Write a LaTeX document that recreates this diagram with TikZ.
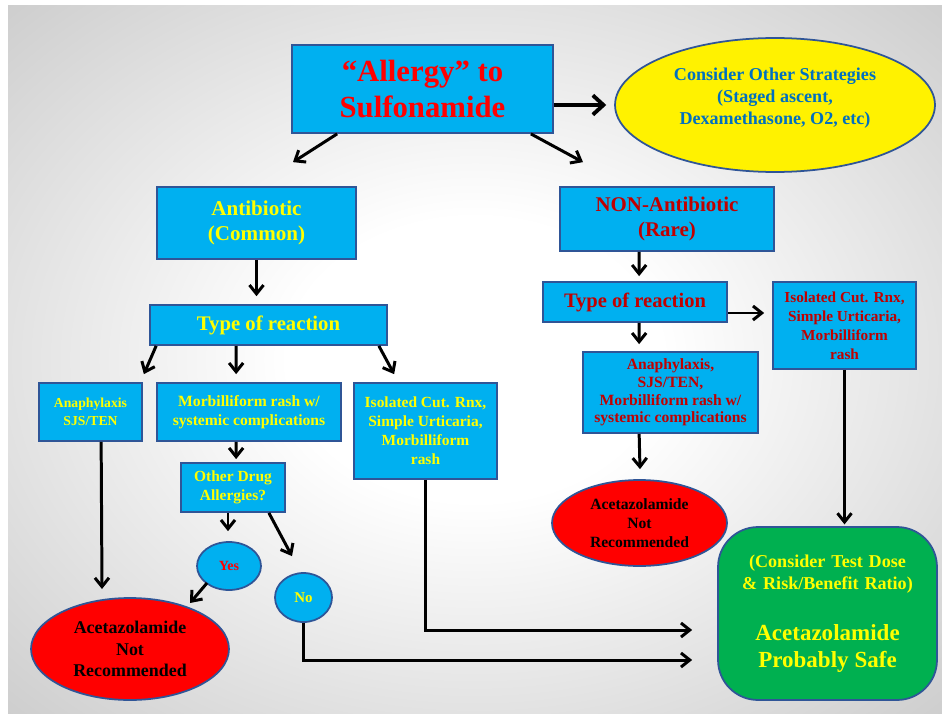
\documentclass[tikz,border=0pt]{standalone}
\usepackage{fontspec}
\setmainfont{Liberation Serif}
\usetikzlibrary{arrows.meta,shapes.geometric,calc}

\definecolor{boxblue}{HTML}{00B0F0}
\definecolor{edgeblue}{HTML}{2F5597}
\definecolor{txtyellow}{HTML}{FFFF00}
\definecolor{txtred}{HTML}{C00000}
\definecolor{brightred}{HTML}{FF0000}
\definecolor{stratblue}{HTML}{0070C0}
\definecolor{safegreen}{HTML}{00B050}
\definecolor{bgmid}{RGB}{178,178,178}
\definecolor{bgedge}{RGB}{148,148,148}

\pgfdeclareradialshading{slidebg}{\pgfpointorigin}{color(0bp)=(white); color(10bp)=(white); color(50bp)=(bgmid); color(72bp)=(bgedge)}

\newcommand{\txtsize}[2]{\fontsize{#1}{#2}\selectfont\bfseries}

\tikzset{
  bluebox/.style={draw=edgeblue, line width=1pt, fill=boxblue, inner sep=0pt, align=center},
  oval/.style={ellipse, draw=edgeblue, line width=1pt, inner sep=0pt, align=center},
  arr/.style={line width=1.7pt, -{Straight Barb[length=5pt,width=8pt]}},
}

\begin{document}
\begin{tikzpicture}[x=0.02cm, y=-0.02cm]
  % frame and slide background
  \useasboundingbox (0,0) rectangle (942,713);
  \fill[white] (0,0) rectangle (942,713);
  \shade[shading=slidebg] (8,6) rectangle (942,713);

  % top box
  \node[bluebox, minimum width=5.22cm, minimum height=1.76cm, text=brightred,
        font=\txtsize{17.5}{20.5}] (top) at (422.5,89) {``Allergy'' to\\Sulfonamide};

  % other strategies
  \node[oval, fill=yellow, minimum width=6.4cm, minimum height=2.68cm, text=stratblue,
        font=\txtsize{10.3}{12.5}, text depth=10pt] (strat) at (775,105)
        {Consider Other Strategies\\(Staged ascent,\\Dexamethasone, O2, etc)};

  % antibiotic branch
  \node[bluebox, minimum width=3.98cm, minimum height=1.44cm, text=txtyellow,
        font=\txtsize{12}{14.7}] (anti) at (256.5,223) {Antibiotic\\(Common)};
  \node[bluebox, minimum width=4.74cm, minimum height=0.8cm, text=txtyellow,
        font=\txtsize{11.8}{14}] (typeL) at (268.5,325) {Type of reaction};
  \node[bluebox, minimum width=2.06cm, minimum height=1.16cm, text=txtyellow,
        font=\txtsize{7.8}{10}] (anaL) at (90.5,412) {Anaphylaxis\\SJS/TEN};
  \node[bluebox, minimum width=3.68cm, minimum height=1.16cm, text=txtyellow,
        font=\txtsize{8.9}{10.5}] (morb) at (249,412) {Morbilliform rash w/\\systemic complications};
  \node[bluebox, minimum width=2.86cm, minimum height=1.92cm, text=txtyellow,
        font=\txtsize{8.8}{10.8}] (isoL) at (425.5,431)
        {Isolated Cut. Rnx,\\Simple Urticaria,\\Morbilliform\\rash};
  \node[bluebox, minimum width=2.08cm, minimum height=0.98cm, text=txtyellow,
        font=\txtsize{8.8}{11}] (other) at (233,487.5) {Other Drug\\Allergies?};
  \node[oval, fill=boxblue, minimum width=1.28cm, minimum height=0.96cm, text=brightred,
        font=\txtsize{8}{10}] (yes) at (229,566) {Yes};
  \node[oval, fill=boxblue, minimum width=1.14cm, minimum height=0.98cm, text=txtyellow,
        font=\txtsize{8.5}{10}] (no) at (303.5,597.5) {No};
  \node[oval, fill=brightred, minimum width=3.96cm, minimum height=2.04cm, text=black,
        font=\txtsize{10.2}{12.2}] (notL) at (130,649) {Acetazolamide\\Not\\Recommended};

  % non-antibiotic branch
  \node[bluebox, minimum width=4.28cm, minimum height=1.28cm, text=txtred,
        font=\txtsize{11.9}{14.2}] (nonanti) at (667,219) {NON-Antibiotic\\(Rare)};
  \node[bluebox, minimum width=3.68cm, minimum height=0.8cm, text=txtred,
        font=\txtsize{11.7}{14}] (typeR) at (635,302) {Type of reaction};
  \node[bluebox, minimum width=3.5cm, minimum height=1.62cm, text=txtred,
        font=\txtsize{8.9}{10}] (anaR) at (670.5,392.5)
        {Anaphylaxis,\\SJS/TEN,\\Morbilliform rash w/\\systemic complications};
  \node[bluebox, minimum width=2.86cm, minimum height=1.74cm, text=txtred,
        font=\txtsize{8.7}{10.8}] (isoR) at (844.5,325.5)
        {Isolated Cut. Rnx,\\Simple Urticaria,\\Morbilliform\\rash};
  \node[oval, fill=brightred, minimum width=3.5cm, minimum height=1.72cm, text=black,
        font=\txtsize{8.9}{10.8}] (notR) at (639.5,523) {Acetazolamide\\Not\\Recommended};

  % probably safe
  \node[draw=edgeblue, line width=1pt, fill=safegreen, rounded corners=0.8cm,
        minimum width=4.38cm, minimum height=3.46cm, inner sep=0pt, text width=4.2cm,
        align=center, text=txtyellow] (safe) at (827.5,613.5)
        {{\txtsize{10.3}{12.5}(Consider Test Dose\\\& Risk/Benefit Ratio)\par}\vspace{13.6pt}
         {\txtsize{13.1}{15.3}Acetazolamide\\Probably Safe\par}};

  % arrows from the top
  \draw[arr] ($(top.south west)+(46,0)$) -- ($(anti.north)+(36.5,-24)$);
  \draw[arr] ($(top.south east)+(-23,0)$) -- ($(nonanti.north)+(-84,-24)$);
  \draw[line width=2.2pt, -{Straight Barb[length=6pt,width=11pt]}, shorten >=4.5pt]
        (top.east |- strat.west) -- (strat.west);

  % antibiotic side
  \draw[arr, shorten >=4.5pt] (anti.south) -- (anti.south |- typeL.north);
  \draw[arr] ($(typeL.south west)+(7,0)$) -- ($(anaL.north east)+(1,-8)$);
  \draw[arr] ($(typeL.south west)+(87,0)$) -- ($(morb.north west)+(80,-8)$);
  \draw[arr] ($(typeL.south east)+(-9,0)$) -- ($(isoL.north west)+(41,-8)$);
  \draw[arr] ($(morb.south west)+(80,0)$) -- ($(other.north west)+(56,-3)$);
  \draw[arr] ($(other.south)+(-5,0)$) -- ($(yes.north)+(-1,-10)$);
  \draw[arr] ($(other.south east)+(-17,0)$) -- ($(no.north)+(-11.5,-16)$);
  \draw[arr] ($(yes.center)+(-22,17)$) -- ($(notL.center)+(60,-46)$);
  \draw[arr] ($(anaL.south west)+(63,0)$) -- ($(notL.center)+(-28,-60)$);
  \draw[arr] (no.south) |- ($(safe.west)+(-25,46.5)$);
  \draw[arr] (isoL.south) |- ($(safe.west)+(-25,16.5)$);

  % non-antibiotic side
  \draw[arr] ($(nonanti.south west)+(80,0)$) -- ($(typeR.north west)+(97,-5)$);
  \draw[arr] ($(typeR.south west)+(97,0)$) -- ($(anaR.north west)+(57,-7)$);
  \draw[arr] ($(typeR.east)+(0,11)$) -- ($(isoR.west)+(-8,-12.5)$);
  \draw[arr] ($(anaR.south west)+(57,0)$) -- ($(notR.north)+(0.5,-10)$);
  \draw[arr, shorten >=1pt] (isoR.south) -- (isoR.south |- safe.north);
\end{tikzpicture}
\end{document}
